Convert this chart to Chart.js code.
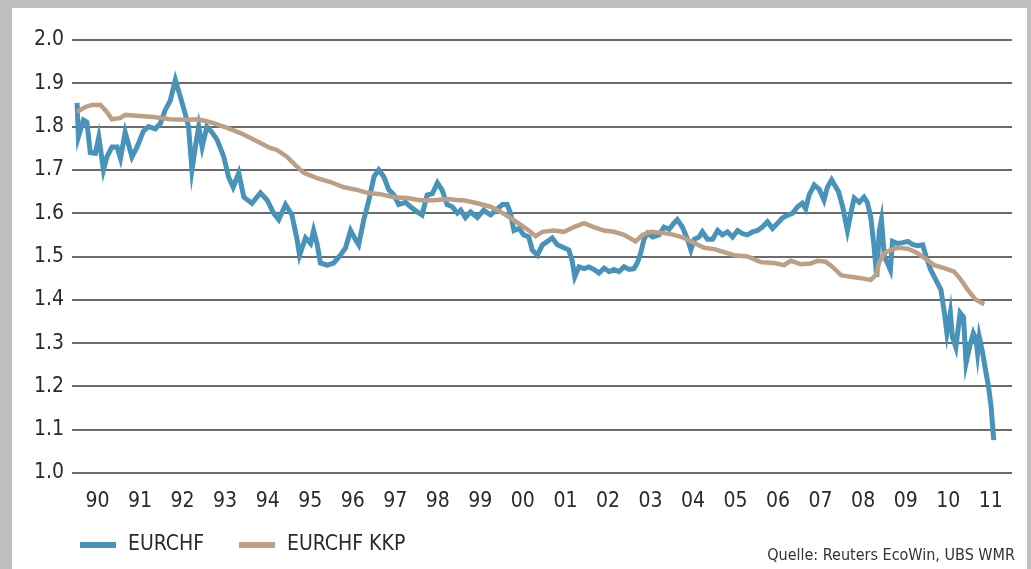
<!DOCTYPE html>
<html>
<head>
<meta charset="utf-8">
<script src="https://cdn.jsdelivr.net/npm/chart.js@4.4.1/dist/chart.umd.min.js"></script>
<style>
  html, body { margin: 0; padding: 0; background: #bfbfbf; }
  #panel { position: absolute; left: 12px; top: 8px; width: 1015px; height: 561px; background: #fff; }
  #chart { display: block; }
</style>
</head>
<body>
<div id="panel"><canvas id="chart" width="1015" height="561"></canvas></div>
<script>
// EURCHF (blue) - decimal years and values
const eurDates = [
  1990.02, 1990.05, 1990.17, 1990.25, 1990.33, 1990.45, 1990.53, 1990.64, 1990.72, 1990.84,
  1990.96, 1991.04, 1991.15, 1991.31, 1991.43, 1991.58, 1991.70, 1991.86, 1991.98, 1992.09,
  1992.21, 1992.33, 1992.45, 1992.56, 1992.64, 1992.72, 1992.80, 1992.88, 1992.96, 1993.07,
  1993.19, 1993.31, 1993.47, 1993.58, 1993.69, 1993.82, 1993.94, 1994.13, 1994.33, 1994.49,
  1994.64, 1994.76, 1994.92, 1995.07, 1995.19, 1995.25, 1995.39, 1995.51, 1995.58, 1995.66,
  1995.74, 1995.90, 1996.05, 1996.21, 1996.33, 1996.45, 1996.56, 1996.64, 1996.76, 1996.88,
  1997.00, 1997.11, 1997.23, 1997.35, 1997.47, 1997.58, 1997.74, 1997.86, 1998.02, 1998.13,
  1998.25, 1998.37, 1998.49, 1998.60, 1998.72, 1998.84, 1998.96, 1999.04, 1999.15, 1999.27,
  1999.43, 1999.58, 1999.74, 1999.90, 2000.02, 2000.13, 2000.21, 2000.29, 2000.41, 2000.52,
  2000.64, 2000.72, 2000.84, 2000.96, 2001.08, 2001.19, 2001.31, 2001.47, 2001.58, 2001.66,
  2001.72, 2001.82, 2001.94, 2002.05, 2002.17, 2002.29, 2002.41, 2002.53, 2002.64, 2002.76,
  2002.88, 2003.00, 2003.11, 2003.19, 2003.27, 2003.35, 2003.43, 2003.55, 2003.70, 2003.82,
  2003.94, 2004.05, 2004.13, 2004.25, 2004.37, 2004.45, 2004.53, 2004.64, 2004.72, 2004.84,
  2004.96, 2005.08, 2005.19, 2005.31, 2005.43, 2005.55, 2005.66, 2005.78, 2005.90, 2006.02,
  2006.13, 2006.25, 2006.37, 2006.49, 2006.60, 2006.72, 2006.84, 2006.96, 2007.07, 2007.15,
  2007.23, 2007.35, 2007.47, 2007.58, 2007.66, 2007.76, 2007.86, 2007.92, 2008.02, 2008.13,
  2008.21, 2008.29, 2008.41, 2008.52, 2008.60, 2008.68, 2008.76, 2008.82, 2008.88, 2008.93,
  2009.00, 2009.07, 2009.14, 2009.19, 2009.31, 2009.43, 2009.55, 2009.66, 2009.78, 2009.90,
  2009.98, 2010.09, 2010.21, 2010.33, 2010.41, 2010.47, 2010.55, 2010.60, 2010.68, 2010.78,
  2010.86, 2010.92, 2011.00, 2011.09, 2011.15, 2011.19, 2011.23, 2011.31, 2011.39, 2011.45,
  2011.51, 2011.57
];
const eurValues = [
  1.855, 1.776, 1.815, 1.810, 1.740, 1.738, 1.776, 1.700, 1.730, 1.753,
  1.753, 1.727, 1.787, 1.730, 1.753, 1.790, 1.800, 1.795, 1.808, 1.838,
  1.860, 1.908, 1.868, 1.830, 1.800, 1.700, 1.753, 1.800, 1.753, 1.800,
  1.787, 1.770, 1.730, 1.684, 1.660, 1.693, 1.637, 1.623, 1.647, 1.630,
  1.600, 1.585, 1.620, 1.596, 1.540, 1.503, 1.543, 1.530, 1.560, 1.530,
  1.485, 1.480, 1.485, 1.503, 1.520, 1.560, 1.540, 1.527, 1.585, 1.630,
  1.684, 1.700, 1.684, 1.654, 1.642, 1.620, 1.625, 1.615, 1.603, 1.596,
  1.642, 1.645, 1.670, 1.654, 1.620, 1.615, 1.600, 1.607, 1.590, 1.603,
  1.590, 1.607, 1.596, 1.610, 1.620, 1.620, 1.600, 1.560, 1.565, 1.550,
  1.545, 1.515, 1.503, 1.527, 1.535, 1.543, 1.527, 1.520, 1.515, 1.490,
  1.453, 1.476, 1.472, 1.476, 1.470, 1.462, 1.473, 1.465, 1.470, 1.465,
  1.476, 1.470, 1.472, 1.485, 1.508, 1.540, 1.554, 1.545, 1.550, 1.568,
  1.563, 1.577, 1.585, 1.568, 1.540, 1.515, 1.540, 1.545, 1.557, 1.540,
  1.540, 1.560, 1.550, 1.557, 1.545, 1.560, 1.553, 1.550, 1.557, 1.560,
  1.568, 1.580, 1.565, 1.577, 1.589, 1.595, 1.600, 1.615, 1.623, 1.610,
  1.642, 1.665, 1.655, 1.630, 1.660, 1.677, 1.660, 1.650, 1.615, 1.560,
  1.600, 1.635, 1.625, 1.637, 1.625, 1.590, 1.520, 1.453, 1.560, 1.585,
  1.500, 1.485, 1.469, 1.535, 1.530, 1.532, 1.535, 1.528, 1.525, 1.527,
  1.500, 1.469, 1.446, 1.423, 1.370, 1.323, 1.370, 1.314, 1.290, 1.370,
  1.360, 1.254, 1.290, 1.323, 1.310, 1.277, 1.314, 1.277, 1.231, 1.198,
  1.152, 1.076
];

// EURCHF KKP (purchasing power parity, brown)
const kkpDates = [
  1990.02, 1990.21, 1990.37, 1990.57, 1990.72, 1990.84, 1991.04, 1991.15, 1991.43, 1991.82,
  1992.21, 1992.61, 1992.84, 1993.04, 1993.23, 1993.55, 1993.86, 1994.17, 1994.53, 1994.72,
  1994.96, 1995.15, 1995.35, 1995.66, 1995.98, 1996.29, 1996.60, 1996.84, 1997.15, 1997.47,
  1997.78, 1998.09, 1998.41, 1998.72, 1999.00, 1999.11, 1999.43, 1999.74, 1999.98, 2000.21,
  2000.45, 2000.64, 2000.80, 2000.96, 2001.23, 2001.47, 2001.70, 2001.94, 2002.17, 2002.41,
  2002.64, 2002.88, 2003.15, 2003.31, 2003.51, 2003.82, 2004.05, 2004.29, 2004.53, 2004.76,
  2005.00, 2005.23, 2005.47, 2005.78, 2006.09, 2006.41, 2006.64, 2006.80, 2007.04, 2007.27,
  2007.43, 2007.62, 2007.78, 2007.98, 2008.21, 2008.45, 2008.68, 2008.80, 2008.88, 2009.00,
  2009.15, 2009.31, 2009.55, 2009.74, 2009.94, 2010.17, 2010.41, 2010.64, 2010.80, 2010.96,
  2011.15, 2011.35
];
const kkpValues = [
  1.834, 1.845, 1.850, 1.850, 1.834, 1.817, 1.820, 1.827, 1.825, 1.822,
  1.817, 1.816, 1.817, 1.813, 1.808, 1.797, 1.785, 1.770, 1.752, 1.746,
  1.730, 1.711, 1.693, 1.681, 1.672, 1.660, 1.654, 1.647, 1.644, 1.637,
  1.635, 1.630, 1.630, 1.633, 1.630, 1.630, 1.623, 1.615, 1.603, 1.589,
  1.573, 1.560, 1.547, 1.557, 1.560, 1.557, 1.568, 1.577, 1.568, 1.560,
  1.557, 1.550, 1.535, 1.550, 1.557, 1.554, 1.550, 1.543, 1.531, 1.520,
  1.517, 1.510, 1.503, 1.500, 1.487, 1.485, 1.480, 1.490, 1.482, 1.484,
  1.490, 1.488, 1.476, 1.457, 1.453, 1.450, 1.446, 1.457, 1.487, 1.508,
  1.515, 1.520, 1.518, 1.510, 1.497, 1.480, 1.473, 1.465, 1.446, 1.423,
  1.400, 1.390
];

// x-axis: one label per year, centred in the year
const tickYears = [1990, 1991, 1992, 1993, 1994, 1995, 1996, 1997, 1998, 1999, 2000,
                   2001, 2002, 2003, 2004, 2005, 2006, 2007, 2008, 2009, 2010, 2011];
const tickLabels = ['90', '91', '92', '93', '94', '95', '96', '97', '98', '99', '00',
                    '01', '02', '03', '04', '05', '06', '07', '08', '09', '10', '11'];
const seriesNames = ['EURCHF', 'EURCHF KKP'];
const sourceText = 'Quelle: Reuters EcoWin, UBS WMR';

const FONT = "'Liberation Sans Narrow', 'DejaVu Sans Condensed', 'Open Sans', sans-serif";
const BLUE = '#4893b9';
const BROWN = '#bd9f84';

const toPoints = (xs, ys) => xs.map((x, i) => ({ x: x, y: ys[i] }));

// legend and source line drawn under the axis
const footerPlugin = {
  id: 'footer',
  afterDraw(chart) {
    const c = chart.ctx;
    const starts = [68, 227];
    c.save();
    c.textBaseline = 'middle';
    c.font = "21px " + FONT;
    chart.data.datasets.forEach((ds, i) => {
      const x = starts[i];
      c.fillStyle = ds.borderColor;
      c.fillRect(x, 534, 36, 6);
      c.fillStyle = '#2a2a2a';
      c.textAlign = 'left';
      c.fillText(ds.label, x + 48, 537);
    });
    c.font = "16px " + FONT;
    c.fillStyle = '#333';
    c.textAlign = 'right';
    c.fillText(sourceText, 1003, 548);
    c.restore();
  }
};

const ctx = document.getElementById('chart').getContext('2d');

const chart = new Chart(ctx, {
  type: 'line',
  data: {
    datasets: [{
      label: seriesNames[0],
      data: toPoints(eurDates, eurValues),
      borderColor: BLUE,
      borderWidth: 5,
      pointRadius: 0,
      tension: 0,
      order: 1
    }, {
      label: seriesNames[1],
      data: toPoints(kkpDates, kkpValues),
      borderColor: BROWN,
      borderWidth: 4.5,
      pointRadius: 0,
      tension: 0,
      order: 0
    }]
  },
  options: {
    responsive: false,
    animation: false,
    layout: { padding: { top: 32, right: 15, bottom: 56, left: 0 } },
    plugins: {
      legend: { display: false },
      tooltip: { enabled: false }
    },
    scales: {
      x: {
        type: 'linear',
        min: 1989.9,
        max: 2012.0,
        grid: { display: false },
        border: { display: false },
        afterBuildTicks: axis => {
          axis.ticks = tickYears.map(y => ({ value: y + 0.5 }));
        },
        afterFit: axis => { axis.height = 40; },
        ticks: {
          autoSkip: false,
          maxRotation: 0,
          padding: 8,
          color: '#2a2a2a',
          font: { family: FONT, size: 21 },
          callback: (value, i) => tickLabels[i]
        }
      },
      y: {
        min: 1.0,
        max: 2.0,
        grid: { color: '#6b6b6b', lineWidth: 2, drawTicks: false },
        border: { display: false },
        afterFit: axis => { axis.width = 60; },
        ticks: {
          stepSize: 0.1,
          padding: 8,
          color: '#2a2a2a',
          font: { family: FONT, size: 21 },
          callback: value => value.toFixed(1)
        }
      }
    }
  },
  plugins: [footerPlugin]
});
</script>
</body>
</html>
